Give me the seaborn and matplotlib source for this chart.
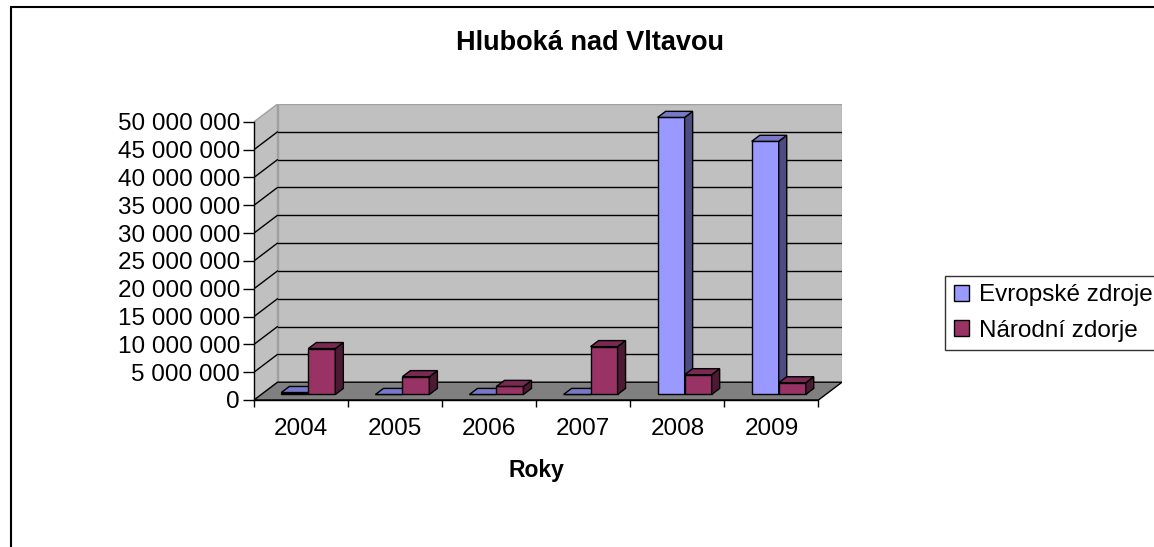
import matplotlib.pyplot as plt
import seaborn as sns
import pandas as pd
from matplotlib.patches import Polygon, Rectangle, Patch

# Data
years = ['2004', '2005', '2006', '2007', '2008', '2009']
evropske = [350000, 0, 0, 0, 49800000, 45500000]
narodni = [8250000, 3200000, 1450000, 8600000, 3550000, 2100000]
series = ['Evropské zdroje', 'Národní zdorje']
y_ticks = list(range(0, 50000001, 5000000))

front_colors = ['#9999FF', '#993366']
top_colors = ['#7878C8', '#7A2952']
side_colors = ['#4C4C80', '#4D1A33']

df = pd.DataFrame({
    'Rok': years * 2,
    'value': evropske + narodni,
    'zdroj': [series[0]] * len(years) + [series[1]] * len(years),
})

sns.set_theme(style="white")
plt.rcParams['font.family'] = ['Liberation Sans', 'DejaVu Sans']
plt.rcParams['text.color'] = 'black'
plt.rcParams['xtick.color'] = 'black'
plt.rcParams['ytick.color'] = 'black'

W, H = 1154, 547
fig = plt.figure(figsize=(W / 100, H / 100), dpi=100)
ax = fig.add_axes([254 / W, 1 - 400 / H, 588 / W, (400 - 104) / H])

sns.barplot(data=df, x='Rok', y='value', hue='zdroj', palette=front_colors,
            width=0.574, edgecolor='black', linewidth=1, legend=False,
            saturation=1, ax=ax)
bars = list(ax.patches)

# depth of the 3D box (in data units) and bar position inside it
DX, DY = 0.25, 3.2e6
TOP = y_ticks[-1]
front_frac, depth_frac = 0.31, 0.34

ax.set_xlim(-0.5, len(years) - 0.5 + DX)
ax.set_ylim(0, TOP + DY)

# walls and floor
x0, x1 = -0.5, len(years) - 0.5
ax.add_patch(Polygon([(x0 + DX, DY), (x1 + DX, DY), (x1 + DX, TOP + DY), (x0 + DX, TOP + DY)],
                     closed=True, facecolor='#C0C0C0', edgecolor='#A0A0A0', lw=1, zorder=0))
ax.add_patch(Polygon([(x0, 0), (x0 + DX, DY), (x0 + DX, TOP + DY), (x0, TOP)],
                     closed=True, facecolor='#C0C0C0', edgecolor='#A0A0A0', lw=1, zorder=0.5))
ax.add_patch(Polygon([(x0, 0), (x1, 0), (x1 + DX, DY), (x0 + DX, DY)],
                     closed=True, facecolor='#808080', edgecolor='black', lw=1, zorder=0.6))
for v in y_ticks[1:-1]:
    ax.plot([x0 + DX, x1 + DX], [v + DY, v + DY], color='black', lw=1, zorder=1)
    ax.plot([x0, x0 + DX], [v, v + DY], color='black', lw=1, zorder=1)

# turn seaborn bars into 3D columns
dx, dy = depth_frac * DX, depth_frac * DY
for p in bars:
    cx = p.get_x() + p.get_width() / 2
    cat = int(round(cx))
    hue = 0 if cx < cat else 1
    p.set_x(p.get_x() + front_frac * DX)
    p.set_y(front_frac * DY)
    bx, by, bw, bh = p.get_x(), p.get_y(), p.get_width(), p.get_height()
    z = 3 + 2 * cat + hue
    p.set_zorder(z)
    top = Polygon([(bx, by + bh), (bx + bw, by + bh), (bx + bw + dx, by + bh + dy), (bx + dx, by + bh + dy)],
                  closed=True, facecolor=top_colors[hue], edgecolor='black', lw=1, zorder=z)
    side = Polygon([(bx + bw, by), (bx + bw + dx, by + dy), (bx + bw + dx, by + bh + dy), (bx + bw, by + bh)],
                   closed=True, facecolor=side_colors[hue], edgecolor='black', lw=1, zorder=z)
    ax.add_patch(side)
    ax.add_patch(top)

# axes, ticks
for s in ['top', 'right']:
    ax.spines[s].set_visible(False)
ax.spines['left'].set_bounds(0, TOP)
ax.spines['bottom'].set_bounds(x0, x1)
for s in ['left', 'bottom']:
    ax.spines[s].set_color('black')
    ax.spines[s].set_linewidth(1)
    ax.spines[s].set_zorder(2)

ax.set_yticks(y_ticks)
ax.set_yticklabels([f"{v:,}".replace(',', ' ') for v in y_ticks], fontsize=17.5)
ax.tick_params(axis='y', which='major', left=True, length=8, width=1, color='black', pad=2)
ax.set_xticks(range(len(years)))
ax.set_xticklabels(years, fontsize=17.5)
ax.set_xticks([i - 0.5 for i in range(len(years) + 1)], minor=True)
ax.tick_params(axis='x', which='major', length=0, pad=13)
ax.tick_params(axis='x', which='minor', bottom=True, length=5, width=1, color='black')
ax.set_xlabel('')
ax.set_ylabel('')
ax.patch.set_alpha(0)

fig.text(590 / W, 1 - 43 / H, 'Hluboká nad Vltavou', ha='center', va='center',
         fontsize=19.5, fontweight='bold')
fig.text(536 / W, 1 - 470 / H, 'Roky', ha='center', va='center',
         fontsize=16.5, fontweight='bold')

handles = [Patch(facecolor=c, edgecolor='black', lw=1) for c in front_colors]
leg = fig.legend(handles, series, loc='center left', bbox_to_anchor=(945 / W, 1 - 313 / H),
                 fontsize=17.5, frameon=True, fancybox=False, edgecolor='black',
                 handlelength=0.65, handleheight=0.65, handletextpad=0.4,
                 labelspacing=0.55, borderpad=0.35, borderaxespad=0)
leg.get_frame().set_linewidth(1)

# chart border
fig.add_artist(Rectangle((11 / W, -0.1), 1.2, 1.1 - 7 / H, transform=fig.transFigure,
                         fill=False, edgecolor='black', lw=1.5))

fig.savefig('out.png', dpi=100)
